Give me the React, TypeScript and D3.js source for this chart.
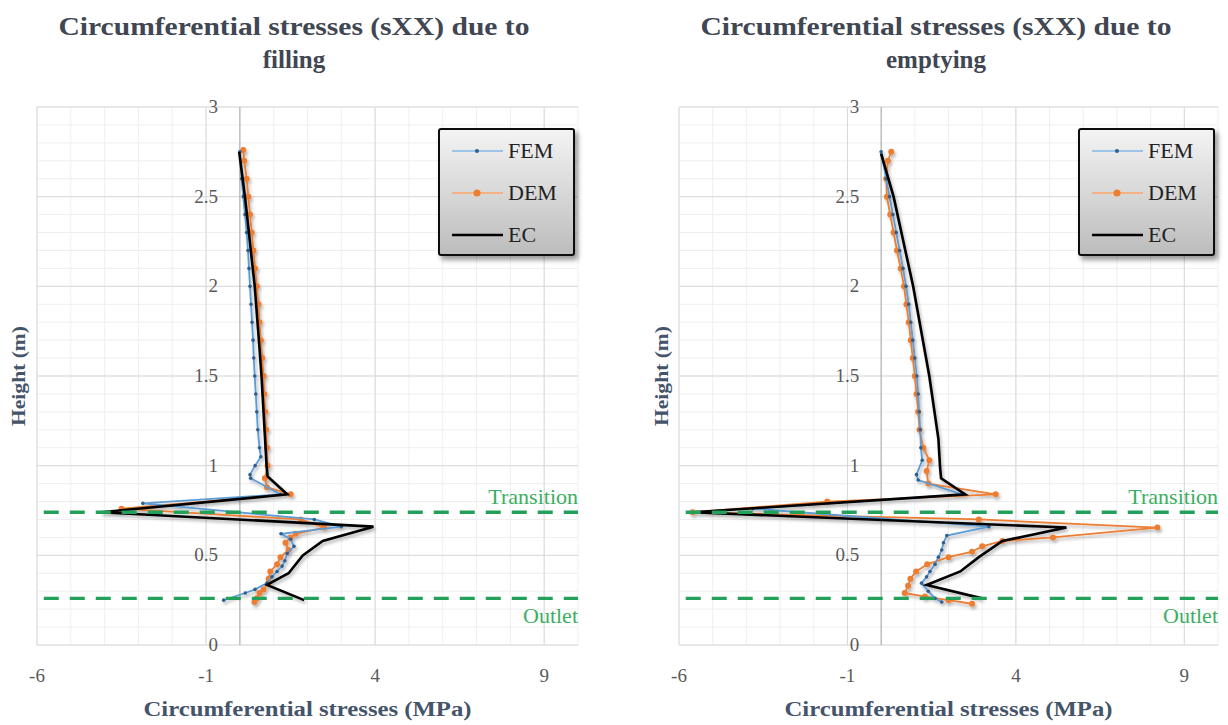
import React, { useRef, useEffect } from 'react';
import * as d3 from 'd3';

// [height (m), circumferential stress (MPa)]
type Pt = [number, number];

const xTicks = [-6, -1, 4, 9];
const yTicks = [0, 0.5, 1, 1.5, 2, 2.5, 3];
const seriesNames = ['FEM', 'DEM', 'EC'];
const transitionHeight = 0.74;
const outletHeight = 0.26;

// --- filling ---
const fillingFEM: Pt[] = [
  [2.75, 0.0], [2.6, 0.05], [2.5, 0.1], [2.4, 0.15], [2.3, 0.2], [2.2, 0.24], [2.1, 0.27],
  [2.0, 0.3], [1.9, 0.33], [1.8, 0.36], [1.7, 0.39], [1.6, 0.41], [1.5, 0.44], [1.4, 0.47],
  [1.3, 0.5], [1.2, 0.53], [1.1, 0.58], [1.05, 0.62], [1.0, 0.45], [0.95, 0.3], [0.93, 0.32],
  [0.84, 1.2], [0.79, -2.87], [0.7, 2.2], [0.66, 3.0], [0.62, 1.22], [0.59, 1.5], [0.55, 1.6],
  [0.51, 1.4], [0.47, 1.33], [0.44, 1.25], [0.41, 1.1], [0.38, 0.95], [0.345, 0.8],
  [0.31, 0.45], [0.29, 0.16], [0.25, -0.48],
];
const fillingDEM: Pt[] = [
  [2.76, 0.1], [2.7, 0.13], [2.6, 0.2], [2.5, 0.25], [2.4, 0.3], [2.3, 0.35], [2.2, 0.4],
  [2.1, 0.45], [2.0, 0.5], [1.9, 0.55], [1.8, 0.58], [1.7, 0.62], [1.6, 0.66], [1.5, 0.7],
  [1.4, 0.72], [1.3, 0.75], [1.2, 0.78], [1.1, 0.8], [1.0, 0.82], [0.93, 0.74], [0.88, 0.8],
  [0.84, 1.5], [0.76, -3.5], [0.7, 1.8], [0.655, 2.5], [0.62, 1.65], [0.6, 1.5], [0.57, 1.35],
  [0.53, 1.44], [0.49, 1.2], [0.45, 1.1], [0.41, 0.9], [0.37, 0.85], [0.345, 0.85],
  [0.31, 0.7], [0.29, 0.58], [0.26, 0.5], [0.24, 0.43],
];
const fillingEC: Pt[] = [
  [2.75, -0.02], [2.5, 0.15], [2.0, 0.44], [1.68, 0.57], [1.5, 0.64], [1.0, 0.79], [0.94, 0.82],
  [0.84, 1.4], [0.74, -4.1], [0.66, 3.95], [0.58, 2.45], [0.5, 1.86], [0.4, 1.44],
  [0.335, 0.8], [0.25, 1.9],
];

// --- emptying ---
const emptyingFEM: Pt[] = [
  [2.75, 0.0], [2.6, 0.15], [2.5, 0.25], [2.4, 0.35], [2.3, 0.45], [2.2, 0.55], [2.1, 0.65],
  [2.0, 0.74], [1.9, 0.82], [1.8, 0.88], [1.7, 0.94], [1.6, 1.0], [1.5, 1.06], [1.4, 1.1],
  [1.3, 1.13], [1.2, 1.16], [1.1, 1.18], [1.03, 1.22], [0.95, 1.05], [0.92, 1.1],
  [0.84, 2.4], [0.76, -3.8], [0.66, 3.2], [0.61, 1.95], [0.57, 1.85], [0.53, 1.8],
  [0.49, 1.7], [0.45, 1.6], [0.41, 1.45], [0.38, 1.35], [0.345, 1.2], [0.3, 1.4],
  [0.26, 1.6], [0.24, 1.8],
];
const emptyingDEM: Pt[] = [
  [2.75, 0.3], [2.7, 0.2], [2.6, 0.15], [2.5, 0.17], [2.4, 0.27], [2.3, 0.37], [2.2, 0.47],
  [2.1, 0.58], [2.0, 0.68], [1.9, 0.75], [1.8, 0.82], [1.7, 0.88], [1.6, 0.94], [1.5, 1.0],
  [1.4, 1.05], [1.3, 1.1], [1.2, 1.14], [1.1, 1.25], [1.03, 1.43], [0.97, 1.35], [0.9, 1.4],
  [0.84, 3.4], [0.8, -1.6], [0.74, -5.6], [0.7, 2.9], [0.655, 8.2], [0.6, 5.1], [0.58, 3.6],
  [0.55, 3.0], [0.52, 2.7], [0.49, 2.0], [0.45, 1.37], [0.41, 1.04], [0.37, 0.87],
  [0.33, 0.8], [0.29, 0.7], [0.27, 1.3], [0.25, 2.0], [0.23, 2.7],
];
const emptyingEC: Pt[] = [
  [2.74, 0.0], [2.5, 0.37], [2.0, 0.95], [1.5, 1.43], [1.15, 1.7], [0.99, 1.75], [0.93, 1.78],
  [0.84, 2.5], [0.74, -5.6], [0.655, 5.5], [0.58, 3.6], [0.49, 2.9], [0.41, 2.35],
  [0.335, 1.35], [0.26, 3.0],
];

const FONT = '"Liberation Serif", "DejaVu Serif", "Times New Roman", serif';

const panels = [
  {
    title: ['Circumferential stresses (sXX) due to', 'filling'],
    left: 37, right: 578, titleX: 294, yTitleX: 19, legendX: 439,
    series: [fillingFEM, fillingDEM, fillingEC],
  },
  {
    title: ['Circumferential stresses (sXX) due to', 'emptying'],
    left: 679, right: 1218, titleX: 936, yTitleX: 662, legendX: 1079,
    series: [emptyingFEM, emptyingDEM, emptyingEC],
  },
];

function drawPanel(svg: any, p: any) {
  const x = d3.scaleLinear().domain([-6, 10]).range([p.left, p.right]);
  const y = d3.scaleLinear().domain([0, 3]).range([645, 107]);
  const g = svg.append('g').style('font-family', FONT);

  // minor gridlines
  g.append('g').selectAll('line').data(d3.range(-6, 11, 1)).join('line')
    .attr('x1', (d: number) => x(d)).attr('x2', (d: number) => x(d))
    .attr('y1', y(0)).attr('y2', y(3)).attr('stroke', '#efefef');
  g.append('g').selectAll('line').data(d3.range(0, 31).map(i => i / 10)).join('line')
    .attr('x1', x(-6)).attr('x2', x(10))
    .attr('y1', (d: number) => y(d)).attr('y2', (d: number) => y(d)).attr('stroke', '#efefef');

  // major gridlines
  g.append('g').selectAll('line').data(xTicks).join('line')
    .attr('x1', (d: number) => x(d)).attr('x2', (d: number) => x(d))
    .attr('y1', y(0)).attr('y2', y(3)).attr('stroke', '#d9d9d9');
  g.append('g').selectAll('line').data(yTicks).join('line')
    .attr('x1', x(-6)).attr('x2', x(10))
    .attr('y1', (d: number) => y(d)).attr('y2', (d: number) => y(d)).attr('stroke', '#d9d9d9');

  // vertical axis at 0
  g.append('line').attr('x1', x(0)).attr('x2', x(0)).attr('y1', y(0)).attr('y2', y(3))
    .attr('stroke', '#a6a6a6');

  // tick labels
  g.append('g').selectAll('text').data(yTicks).join('text')
    .attr('x', x(0) - 22).attr('y', (d: number) => y(d) + 6)
    .attr('text-anchor', 'end').attr('font-size', 19)
    .attr('fill', '#595959').text((d: number) => String(d));
  g.append('g').selectAll('text').data(xTicks).join('text')
    .attr('x', (d: number) => x(d)).attr('y', 682)
    .attr('text-anchor', 'middle').attr('font-size', 19)
    .attr('fill', '#595959').text((d: number) => String(d));

  // titles
  g.append('text').attr('x', p.titleX).attr('y', 35).attr('text-anchor', 'middle')
    .attr('font-weight', 'bold').attr('font-size', 25)
    .attr('fill', '#404652').attr('textLength', 471).attr('lengthAdjust', 'spacingAndGlyphs')
    .text(p.title[0]);
  g.append('text').attr('x', p.titleX).attr('y', 68).attr('text-anchor', 'middle')
    .attr('font-weight', 'bold').attr('font-size', 25)
    .attr('fill', '#404652').text(p.title[1]);

  g.append('text').attr('x', (p.left + p.right) / 2).attr('y', 716).attr('text-anchor', 'middle')
    .attr('font-weight', 'bold').attr('font-size', 20)
    .attr('fill', '#44546a').attr('textLength', 328).attr('lengthAdjust', 'spacingAndGlyphs')
    .text('Circumferential stresses (MPa)');
  g.append('text').attr('transform', `translate(${p.yTitleX + 6}, 376) rotate(-90)`)
    .attr('text-anchor', 'middle').attr('font-weight', 'bold')
    .attr('font-size', 18).attr('fill', '#44546a')
    .attr('textLength', 100).attr('lengthAdjust', 'spacingAndGlyphs')
    .text('Height (m)');

  // series
  const line = d3.line<Pt>().x(d => x(d[1])).y(d => y(d[0]));
  const sg = g.append('g').attr('filter', 'url(#lineShadow)');
  const [fem, dem, ec] = p.series;

  sg.append('path').datum(dem).attr('d', line).attr('fill', 'none')
    .attr('stroke', '#ed7d31').attr('stroke-width', 1.8);
  sg.append('g').selectAll('circle').data(dem).join('circle')
    .attr('cx', (d: Pt) => x(d[1])).attr('cy', (d: Pt) => y(d[0])).attr('r', 3)
    .attr('fill', '#ed7d31');

  sg.append('path').datum(fem).attr('d', line).attr('fill', 'none')
    .attr('stroke', '#5b9bd5').attr('stroke-width', 1.8);
  sg.append('g').selectAll('circle').data(fem).join('circle')
    .attr('cx', (d: Pt) => x(d[1])).attr('cy', (d: Pt) => y(d[0])).attr('r', 1.8)
    .attr('fill', '#2e5f8e');

  sg.append('path').datum(ec).attr('d', line).attr('fill', 'none')
    .attr('stroke', '#000').attr('stroke-width', 2.6).attr('stroke-linejoin', 'miter');

  // transition / outlet markers
  [transitionHeight, outletHeight].forEach(h => {
    g.append('line').attr('x1', x(-5.8)).attr('x2', x(10)).attr('y1', y(h)).attr('y2', y(h))
      .attr('stroke', '#23a05a').attr('stroke-width', 3.4).attr('stroke-dasharray', '15 11');
  });
  g.append('text').attr('x', x(10)).attr('y', y(transitionHeight) - 8).attr('text-anchor', 'end')
    .attr('font-size', 22).attr('fill', '#3cae62').text('Transition');
  g.append('text').attr('x', x(10)).attr('y', y(outletHeight) + 25).attr('text-anchor', 'end')
    .attr('font-size', 22).attr('fill', '#3cae62').text('Outlet');

  // legend
  const lg = g.append('g').attr('transform', `translate(${p.legendX}, 129)`);
  lg.append('rect').attr('width', 135).attr('height', 126).attr('rx', 2)
    .attr('fill', 'url(#legendFill)').attr('stroke', '#111').attr('stroke-width', 2)
    .attr('filter', 'url(#boxShadow)');
  const legendColors = ['#9dc3e6', '#f4b183', '#000'];
  const markerColors = ['#2e5f8e', '#ed7d31', null];
  seriesNames.forEach((name, i) => {
    const ly = 22 + i * 42;
    lg.append('line').attr('x1', 13).attr('x2', 64).attr('y1', ly).attr('y2', ly)
      .attr('stroke', legendColors[i]).attr('stroke-width', i === 2 ? 2.4 : 2);
    if (markerColors[i]) {
      lg.append('circle').attr('cx', 38).attr('cy', ly).attr('r', i === 1 ? 3.5 : 2)
        .attr('fill', markerColors[i]);
    }
    lg.append('text').attr('x', 69).attr('y', ly + 7)
      .attr('font-size', 22).attr('fill', '#222').text(name);
  });
}

export default function App() {
  const svgRef = useRef<SVGSVGElement>(null);

  useEffect(() => {
    if (!svgRef.current) return;
    const svg = d3.select(svgRef.current);
    svg.selectAll('*').remove();

    const defs = svg.append('defs');
    const grad = defs.append('linearGradient').attr('id', 'legendFill')
      .attr('x1', 0).attr('y1', 0).attr('x2', 0).attr('y2', 1);
    grad.append('stop').attr('offset', '0%').attr('stop-color', '#f4f4f4');
    grad.append('stop').attr('offset', '100%').attr('stop-color', '#bcbcbc');
    defs.append('filter').attr('id', 'boxShadow').attr('x', '-20%').attr('y', '-20%')
      .attr('width', '150%').attr('height', '150%')
      .append('feDropShadow').attr('dx', 3).attr('dy', 4).attr('stdDeviation', 2.5)
      .attr('flood-color', '#000').attr('flood-opacity', 0.4);
    defs.append('filter').attr('id', 'lineShadow').attr('x', '-10%').attr('y', '-10%')
      .attr('width', '120%').attr('height', '120%')
      .append('feDropShadow').attr('dx', 1.5).attr('dy', 2.5).attr('stdDeviation', 1.5)
      .attr('flood-color', '#000').attr('flood-opacity', 0.3);

    svg.append('rect').attr('width', 1228).attr('height', 725).attr('fill', '#fff');
    panels.forEach(p => drawPanel(svg, p));
  }, []);

  return (
    <svg
      ref={svgRef}
      width={1228}
      height={725}
      style={{ position: 'absolute', left: 0, top: 0, display: 'block' }}
    />
  );
}
